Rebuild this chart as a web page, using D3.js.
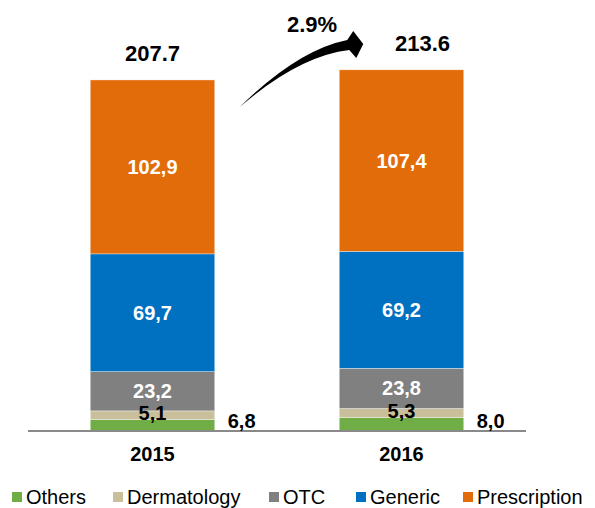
<!DOCTYPE html>
<html>
<head>
<meta charset="utf-8">
<script src="https://cdn.jsdelivr.net/npm/d3@7"></script>
<style>
  html, body { margin: 0; padding: 0; background: #fff; }
  svg { display: block; font-family: 'Liberation Sans', Arial, sans-serif; }
</style>
</head>
<body>
<div id="chart"></div>
<script>
// ////////////////////////////////////////////////////////////////////////////
// DATA
// ////////////////////////////////////////////////////////////////////////////
const years = ['2015', '2016'];
const segments = ['Others', 'Dermatology', 'OTC', 'Generic', 'Prescription'];
const others = [6.8, 8.0];
const dermatology = [5.1, 5.3];
const otc = [23.2, 23.8];
const generic = [69.7, 69.2];
const prescription = [102.9, 107.4];
const totals = [207.7, 213.6];
const growthLabel = '2.9%';

const colors = ['#70ad47', '#c9c09b', '#808080', '#0070c0', '#e36c0a'];
const labelColors = ['#000', '#000', '#fff', '#fff', '#fff'];

const rows = years.map((yr, i) => ({
  year: yr,
  Others: others[i],
  Dermatology: dermatology[i],
  OTC: otc[i],
  Generic: generic[i],
  Prescription: prescription[i],
  total: totals[i],
}));

// ////////////////////////////////////////////////////////////////////////////
// SETUP
// ////////////////////////////////////////////////////////////////////////////
const width = 595;
const height = 508;

const svg = d3.select('#chart').append('svg')
  .attr('width', width)
  .attr('height', height);

const x = d3.scaleBand()
  .domain(years)
  .range([28, 526])
  .paddingInner(0.5)
  .paddingOuter(0.25);

const y = d3.scaleLinear()
  .domain([0, 255])
  .range([431, 0]);

const color = d3.scaleOrdinal(segments, colors);
const labelColor = d3.scaleOrdinal(segments, labelColors);

const stacked = d3.stack().keys(segments)(rows);

// ////////////////////////////////////////////////////////////////////////////
// BARS
// ////////////////////////////////////////////////////////////////////////////
const layers = svg.selectAll('.layer')
  .data(stacked)
  .enter().append('g')
    .attr('class', 'layer')
    .attr('fill', d => color(d.key));

layers.selectAll('rect')
  .data(d => d)
  .enter().append('rect')
    .attr('x', d => x(d.data.year))
    .attr('y', d => y(d[1]))
    .attr('width', x.bandwidth())
    .attr('height', d => y(d[0]) - y(d[1]))
    .attr('stroke', '#fff')
    .attr('stroke-opacity', 0.6)
    .attr('stroke-width', 0.6);

// axis baseline
svg.append('line')
  .attr('x1', x.range()[0])
  .attr('x2', x.range()[1])
  .attr('y1', y(0))
  .attr('y2', y(0))
  .attr('stroke', '#898989')
  .attr('stroke-width', 2);

// ////////////////////////////////////////////////////////////////////////////
// SEGMENT LABELS
// ////////////////////////////////////////////////////////////////////////////
const fmt = v => d3.format('.1f')(v).replace('.', ',');

stacked.forEach((layer) => {
  if (layer.key === 'Others') {
    // small segment is labelled to the right of the bar
    svg.selectAll(`.lbl-${layer.key}`)
      .data(layer)
      .enter().append('text')
        .attr('x', d => x(d.data.year) + x.bandwidth() + 13)
        .attr('y', y(0) - 3)
        .attr('font-size', 20)
        .attr('font-weight', 'bold')
        .attr('fill', '#000')
        .text(d => fmt(d[1] - d[0]));
    return;
  }
  svg.selectAll(`.lbl-${layer.key}`)
    .data(layer)
    .enter().append('text')
      .attr('x', d => x(d.data.year) + x.bandwidth() / 2)
      .attr('y', d => (y(d[0]) + y(d[1])) / 2 + 7 - (layer.key === 'Dermatology' ? 2 : 0))
      .attr('text-anchor', 'middle')
      .attr('font-size', 20)
      .attr('font-weight', 'bold')
      .attr('fill', labelColor(layer.key))
      .text(d => fmt(d[1] - d[0]));
});

// ////////////////////////////////////////////////////////////////////////////
// TOTALS + YEAR LABELS
// ////////////////////////////////////////////////////////////////////////////
const totalShift = [0, 21];

svg.selectAll('.total')
  .data(rows)
  .enter().append('text')
    .attr('class', 'total')
    .attr('x', (d, i) => x(d.year) + x.bandwidth() / 2 + totalShift[i])
    .attr('y', d => y(d.total) - 19)
    .attr('text-anchor', 'middle')
    .attr('font-size', 22)
    .attr('font-weight', 'bold')
    .text(d => d.total.toFixed(1));

svg.selectAll('.year')
  .data(years)
  .enter().append('text')
    .attr('class', 'year')
    .attr('x', d => x(d) + x.bandwidth() / 2)
    .attr('y', 461)
    .attr('text-anchor', 'middle')
    .attr('font-size', 20)
    .attr('font-weight', 'bold')
    .text(d => d);

// ////////////////////////////////////////////////////////////////////////////
// GROWTH ARROW
// ////////////////////////////////////////////////////////////////////////////
const sx = x(years[0]) + x.bandwidth() + 25;
const sy = y(totals[0]) + 27;
const tx = x(years[1]) + 24;
const ty = y(totals[1]) - 27;

const p = d3.path();
p.moveTo(sx, sy);
p.quadraticCurveTo(sx + 58, sy - 57, tx - 16, ty - 3);
p.lineTo(tx - 10, ty - 12);
p.lineTo(tx, ty + 1);
p.lineTo(tx - 7, ty + 15);
p.lineTo(tx - 14, ty + 7);
p.quadraticCurveTo(sx + 59, sy - 51, sx, sy);
p.closePath();

svg.append('path')
  .attr('d', p.toString())
  .attr('fill', '#000');

svg.append('text')
  .attr('x', 312)
  .attr('y', 32)
  .attr('text-anchor', 'middle')
  .attr('font-size', 22)
  .attr('font-weight', 'bold')
  .text(growthLabel);

// ////////////////////////////////////////////////////////////////////////////
// LEGEND
// ////////////////////////////////////////////////////////////////////////////
const legendX = [12, 113, 269, 356, 463];

const legend = svg.selectAll('.legend')
  .data(segments)
  .enter().append('g')
    .attr('class', 'legend')
    .attr('transform', (d, i) => `translate(${legendX[i]}, 492)`);

legend.append('rect')
  .attr('width', 10)
  .attr('height', 10)
  .attr('fill', d => color(d));

legend.append('text')
  .attr('x', 14)
  .attr('y', 12)
  .attr('font-size', 20)
  .attr('fill', '#000')
  .text(d => d);
</script>
</body>
</html>
